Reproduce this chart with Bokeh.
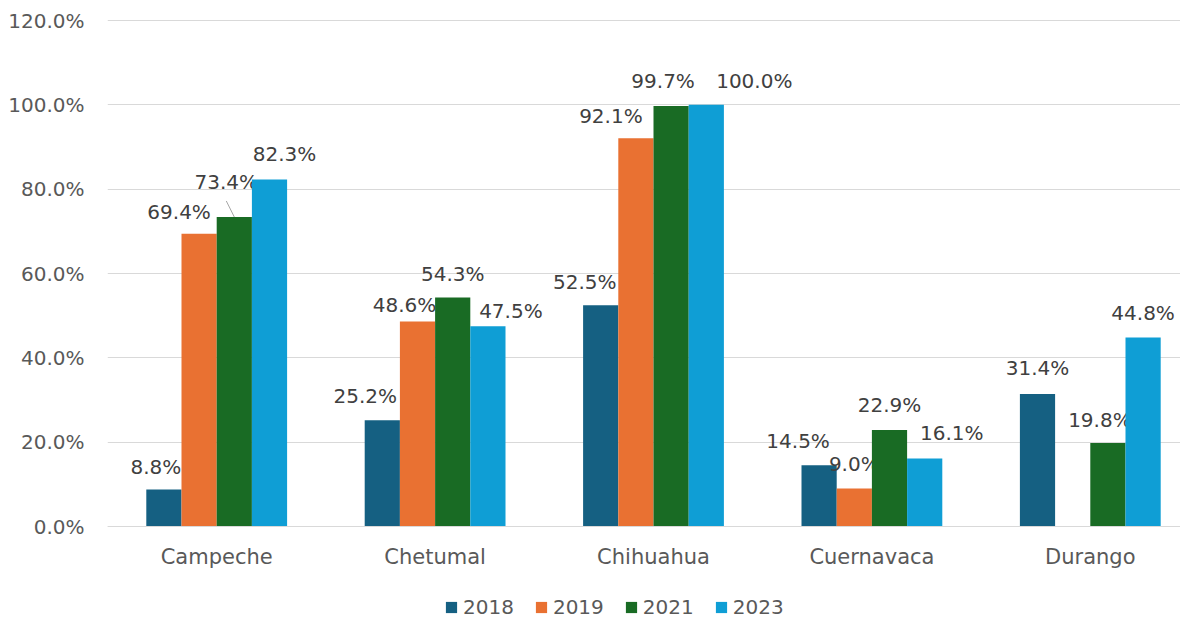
import math
from bokeh.plotting import figure
from bokeh.models import (ColumnDataSource, Range1d, FixedTicker, NumeralTickFormatter,
                          Legend, LegendItem)
from bokeh.core.properties import value
from bokeh.embed import file_html
from bokeh.resources import INLINE

# ---------------- data ----------------
cities = ["Campeche", "Chetumal", "Chihuahua", "Cuernavaca", "Durango"]
years = ["2018", "2019", "2021", "2023"]
v2018 = [8.8, 25.2, 52.5, 14.5, 31.4]
v2019 = [69.4, 48.6, 92.1, 9.0, float("nan")]
v2021 = [73.4, 54.3, 99.7, 22.9, 19.8]
v2023 = [82.3, 47.5, 100.0, 16.1, 44.8]
series = [v2018, v2019, v2021, v2023]
colors = ["#156082", "#E97132", "#196B24", "#0F9ED5"]
y_ticks = [0.0, 0.2, 0.4, 0.6, 0.8, 1.0, 1.2]

# label placement (pixels: dx right, dy up from bar top) – style only
lab_dx = [[-8, -17, -16, -21, 0],
          [-20, -13, -25, 0, 0],
          [-8, 0, -8, 0, -8],
          [15, 23, 48, 27, 0]]
lab_dy = [[22, 24, 23, 24, 26],
          [22, 17, 22, 25, 0],
          [35, 24, 25, 25, 23],
          [25, 15, 24, 26, 25]]

FONT = "DejaVu Sans"
W, H = 1180, 619
LEFT, TOP = 107, 19
frame_w = W - LEFT
frame_h = H - TOP
zero_px = 526          # figure y of the 0% line
px_per_cat = 218.4
x_end = -0.5 + frame_w / px_per_cat
px_per_y = 506 / 1.2
y_max = 1.2 + (zero_px - 506 - TOP) / px_per_y
y_min = -(H - zero_px) / px_per_y
bw = 35.2 / px_per_cat

p = figure(width=W, height=H, output_backend="svg", toolbar_location=None,
           x_range=Range1d(-0.5, x_end), y_range=Range1d(y_min, y_max),
           min_border_left=LEFT, min_border_right=0, min_border_top=TOP,
           min_border_bottom=0)
p.outline_line_color = None
p.background_fill_color = "white"
p.border_fill_color = "white"

items = []
for i, (vals, col, yr) in enumerate(zip(series, colors, years)):
    off = (i - 1.5) * bw
    xs = [k + off for k in range(len(cities))]
    tops = [v / 100.0 for v in vals]
    src = ColumnDataSource(dict(x=xs, top=tops))
    r = p.vbar(x="x", top="top", width=bw, bottom=0, source=src,
               fill_color=col, line_color=None)
    items.append(LegendItem(label=yr, renderers=[r]))
    for k in range(len(cities)):
        v = vals[k]
        if math.isnan(v):
            continue
        p.text(x=[xs[k]], y=[v / 100.0], text=[f"{v:.1f}%"],
               x_offset=lab_dx[i][k], y_offset=-lab_dy[i][k],
               text_align="center", text_baseline="middle",
               text_font=value(FONT), text_font_size="20px", text_color="#404040")

# leader line for Campeche 2021 label
li, lk = 2, 0
lx0 = lk + (li - 1.5) * bw
ly0 = series[li][lk] / 100.0
p.segment(x0=[lx0], y0=[ly0], x1=[lx0 - 8 / px_per_cat], y1=[ly0 + 16 / px_per_y],
          line_color="#A6A6A6", line_width=1)

# axes
p.xaxis.fixed_location = 0
p.xaxis.ticker = FixedTicker(ticks=list(range(len(cities))))
p.xaxis.major_label_overrides = {k: c for k, c in enumerate(cities)}
p.xaxis.major_tick_line_color = None
p.xaxis.minor_tick_line_color = None
p.xaxis.axis_line_color = "#D9D9D9"
p.xaxis.major_label_standoff = 12
p.xaxis.major_label_text_font = FONT
p.xaxis.major_label_text_font_size = "21px"
p.xaxis.major_label_text_color = "#595959"

p.yaxis.ticker = FixedTicker(ticks=y_ticks)
p.yaxis.formatter = NumeralTickFormatter(format="0.0%")
p.yaxis.major_tick_line_color = None
p.yaxis.minor_tick_line_color = None
p.yaxis.axis_line_color = None
p.yaxis.major_label_standoff = 17
p.yaxis.major_label_text_font = FONT
p.yaxis.major_label_text_font_size = "20px"
p.yaxis.major_label_text_color = "#595959"

p.xgrid.grid_line_color = None
p.ygrid.ticker = FixedTicker(ticks=y_ticks)
p.ygrid.grid_line_color = "#D9D9D9"
p.ygrid.grid_line_width = 1

legend = Legend(items=items, orientation="horizontal", location=(337, 0),
                glyph_width=14, glyph_height=14, label_standoff=5, spacing=20,
                padding=0, margin=0, border_line_color=None, background_fill_alpha=0,
                label_text_font=FONT, label_text_font_size="20px",
                label_text_color="#595959")
p.add_layout(legend, "center")

open("out.html", "w").write(file_html(p, INLINE))
